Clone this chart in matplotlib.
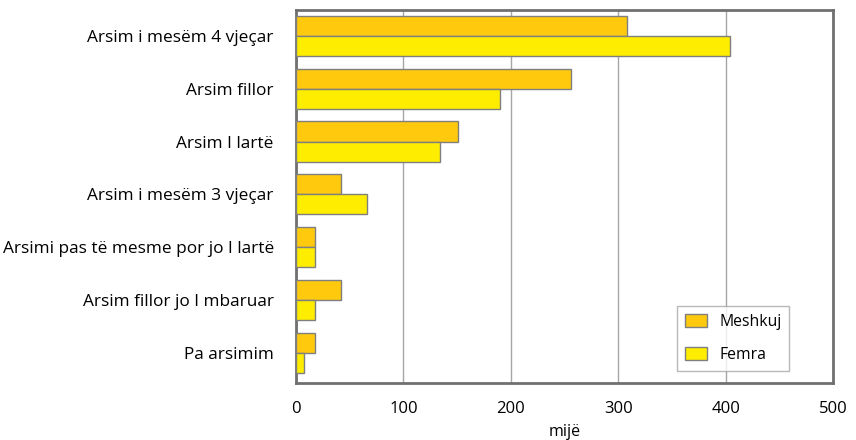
import numpy as np
import matplotlib.pyplot as plt

plt.rcParams['font.family'] = ['Open Sans', 'DejaVu Sans']

categories = ['Arsim i mesëm 4 vjeçar', 'Arsim fillor', 'Arsim I lartë',
              'Arsim i mesëm 3 vjeçar', 'Arsimi pas të mesme por jo I lartë',
              'Arsim fillor jo I mbaruar', 'Pa arsimim']
meshkuj = [308, 256, 151, 42, 18, 42, 18]
femra = [404, 190, 134, 66, 18, 18, 7]

fig = plt.figure(figsize=(8.56, 4.4), dpi=100)
ax = fig.add_axes([296/856, 1-383/440, (833-296)/856, (383-10)/440])

y = np.arange(len(categories))
h = 0.38
ax.barh(y - h/2, meshkuj, height=h, color='#FFC90D', edgecolor='#7f7f7f',
        linewidth=1, label='Meshkuj', zorder=3)
ax.barh(y + h/2, femra, height=h, color='#FFED00', edgecolor='#7f7f7f',
        linewidth=1, label='Femra', zorder=3)

ax.set_xlim(0, 500)
ax.set_ylim(len(categories) - 1 + 0.57, -0.49)
ax.set_yticks(y)
ax.set_yticklabels(categories, fontsize=12.4)
ax.set_xticks(np.arange(0, 501, 100))
ax.tick_params(axis='x', length=0, labelsize=12)
ax.tick_params(axis='y', length=0, pad=16)
ax.tick_params(axis='x', pad=13)
ax.xaxis.grid(True, color='#a6a6a6', linewidth=1, zorder=0)
for s in ax.spines.values():
    s.set_color('#707070')
    s.set_linewidth(2)
ax.set_xlabel('mijë', fontsize=11.5, labelpad=5)

leg = ax.legend(loc='lower left', bbox_to_anchor=(0.7095, 0.032), fontsize=11.3,
                frameon=True, fancybox=False, handlelength=1.4, handleheight=0.88,
                labelspacing=1.1, borderpad=0.5, handletextpad=0.8,
                borderaxespad=0)
leg.get_frame().set_edgecolor('#a6a6a6')
leg.get_frame().set_linewidth(1)

plt.savefig('out.png', dpi=100)
